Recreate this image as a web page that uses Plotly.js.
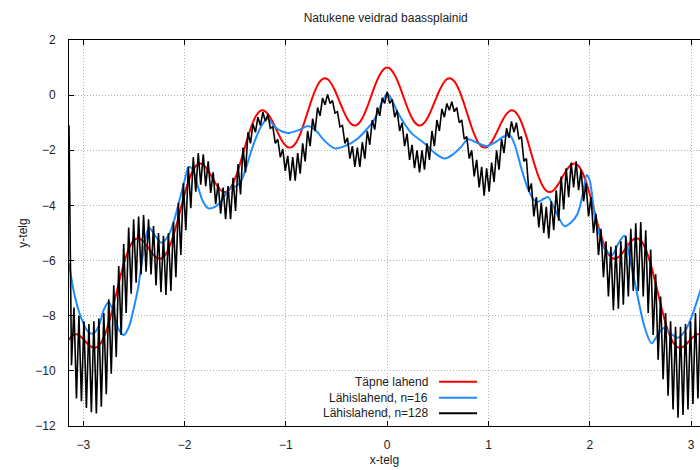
<!DOCTYPE html>
<html>
<head>
<meta charset="utf-8">
<script src="https://cdn.plot.ly/plotly-3.0.1.min.js"></script>
<style>html,body{margin:0;padding:0;background:#fff;overflow:hidden}</style>
</head>
<body>
<div id="chart" style="width:700px;height:470px"></div>
<script>
// Series names / legend labels
const seriesNames = ['Täpne lahend', 'Lähislahend, n=16', 'Lähislahend, n=128'];
const xTicks = [-3, -2, -1, 0, 1, 2, 3];

// Red: exact solution, sampled every pi/80 from -pi to 0 (mirrored for 0..pi)
const redStart = -3.14159;
const redStep = 0.0392699;
const redLeft = [-8.870,-8.701,-8.675,-8.761,-8.907,-9.057,-9.152,-9.142,-8.994,-8.698,-8.264,-7.725,-7.131,-6.540,-6.010,-5.592,-5.317,-5.197,-5.221,-5.356,-5.552,-5.751,-5.895,-5.934,-5.836,-5.589,-5.204,-4.715,-4.170,-3.628,-3.148,-2.779,-2.553,-2.483,-2.556,-2.740,-2.986,-3.234,-3.427,-3.516,-3.467,-3.269,-2.934,-2.494,-1.999,-1.506,-1.076,-0.756,-0.579,-0.558,-0.681,-0.914,-1.209,-1.507,-1.750,-1.888,-1.888,-1.740,-1.454,-1.063,-0.617,-0.174,0.207,0.478,0.605,0.577,0.405,0.122,-0.222,-0.569,-0.861,-1.049,-1.099,-0.999,-0.763,-0.421,-0.025,0.369,0.701,0.922,1.000];
const redY = redLeft.concat(redLeft.slice(0, redLeft.length - 1).reverse());

// Blue: n=16 approximation, read points
const blueX = [-3.1416,-3.09,-3.02,-2.96,-2.905,-2.85,-2.8,-2.75,-2.7,-2.65,-2.6,-2.55,-2.5,-2.46,-2.42,-2.38,-2.35,-2.3,-2.23,-2.16,-2.1,-2.05,-2.0,-1.96,-1.92,-1.87,-1.82,-1.77,-1.7,-1.64,-1.58,-1.54,-1.49,-1.44,-1.39,-1.34,-1.29,-1.24,-1.18,-1.11,-1.04,-0.97,-0.88,-0.78,-0.7,-0.62,-0.52,-0.42,-0.29,-0.13,-0.05,0,0.05,0.1,0.24,0.37,0.47,0.566,0.65,0.73,0.8,0.9,0.98,1.07,1.15,1.21,1.26,1.32,1.39,1.45,1.49,1.55,1.59,1.65,1.75,1.82,1.88,1.93,1.97,2.0,2.05,2.1,2.15,2.22,2.28,2.34,2.39,2.44,2.54,2.61,2.67,2.73,2.8,2.87,2.95,3.02,3.1,3.1416];
const blueY = [-6.1,-7.2,-8.1,-8.55,-8.65,-8.4,-7.8,-7.5,-7.9,-8.5,-8.7,-8.4,-7.7,-7.0,-6.0,-5.1,-4.8,-5.05,-5.35,-5.1,-4.5,-3.8,-3.1,-2.6,-2.7,-3.3,-3.85,-4.1,-4.05,-3.85,-3.5,-3.35,-3.3,-3.1,-2.6,-2.0,-1.5,-1.1,-0.85,-1.15,-1.32,-1.37,-1.28,-1.12,-1.3,-1.65,-1.93,-1.85,-1.57,-0.9,-0.25,0.06,-0.2,-0.6,-1.38,-1.75,-2.1,-2.3,-2.15,-1.87,-1.6,-1.75,-1.85,-1.7,-1.5,-1.45,-1.8,-2.6,-3.4,-3.8,-3.87,-3.75,-3.7,-4.1,-4.75,-4.6,-4.3,-3.6,-2.9,-3.1,-4.4,-5.1,-5.6,-5.8,-5.4,-5.1,-5.8,-6.7,-8.4,-9.0,-8.7,-8.45,-8.65,-8.8,-8.5,-7.9,-7.0,-6.6];

// Black: n=128 approximation, sampled every pi/128; read tops (even samples) and bottoms (odd samples)
const blackStart = -3.14159;
const blackStep = 0.0245437;
const blackTop = [-1.1,-7.7,-8.0,-8.2,-8.3,-8.2,-8.1,-7.9,-7.4,-6.9,-6.2,-5.4,-4.8,-4.5,-4.4,-4.35,-4.5,-4.75,-5.0,-5.1,-5.0,-4.6,-3.9,-3.2,-2.6,-2.25,-2.1,-2.15,-2.4,-2.8,-3.2,-3.35,-3.3,-3.0,-2.5,-1.9,-1.35,-1.05,-0.8,-0.62,-0.7,-1.15,-1.6,-1.95,-2.2,-2.25,-2.1,-1.75,-1.3,-0.85,-0.45,-0.1,0.03,-0.2,-0.6,-1.1,-1.55,-1.85,-1.9,-1.7,-1.3,-0.9,-0.45,-0.1,0.12,-0.15,-0.55,-1.0,-1.4,-1.8,-2.0,-2.0,-1.75,-1.3,-0.9,-0.5,-0.3,-0.24,-0.45,-0.9,-1.5,-2.0,-2.35,-2.6,-2.65,-2.45,-2.0,-1.6,-1.2,-0.95,-1.0,-1.5,-2.3,-3.2,-3.7,-3.9,-4.05,-3.85,-3.45,-2.95,-2.65,-2.45,-2.4,-2.7,-3.2,-3.7,-4.3,-4.85,-5.3,-5.5,-5.45,-5.3,-5.1,-4.85,-4.65,-4.6,-4.9,-5.6,-6.5,-7.3,-7.9,-8.2,-8.4,-8.4,-8.3,-8.2,-7.9,-7.7,-7.5];
const blackBottom = [-9.8,-11.0,-11.1,-11.35,-11.5,-11.55,-11.3,-10.85,-10.1,-9.5,-8.7,-7.9,-7.2,-6.8,-6.5,-6.4,-6.5,-6.9,-7.15,-7.25,-7.1,-6.6,-5.8,-4.9,-4.1,-3.5,-3.25,-3.3,-3.55,-3.95,-4.3,-4.5,-4.5,-4.2,-3.6,-2.8,-1.75,-1.35,-1.1,-0.95,-1.2,-1.75,-2.25,-2.75,-3.1,-3.1,-2.85,-2.4,-1.85,-1.3,-0.75,-0.35,-0.3,-0.65,-1.15,-1.75,-2.3,-2.6,-2.6,-2.3,-1.8,-1.25,-0.75,-0.3,-0.3,-0.8,-1.3,-1.85,-2.35,-2.65,-2.8,-2.7,-2.35,-1.85,-1.3,-0.8,-0.55,-0.6,-1.0,-1.6,-2.3,-2.95,-3.35,-3.65,-3.5,-3.15,-2.7,-2.1,-1.55,-1.35,-1.6,-2.4,-3.5,-4.4,-4.8,-5.0,-5.2,-4.9,-4.55,-4.15,-3.7,-3.35,-3.45,-3.85,-4.4,-5.0,-5.8,-6.6,-7.3,-7.8,-7.75,-7.6,-7.3,-7.1,-7.1,-7.3,-7.9,-8.7,-9.6,-10.3,-10.9,-11.4,-11.7,-11.6,-11.4,-11.2,-11.0,-10.8];

const blackY = [];
for (let i = 0; i < blackTop.length; i++) {
  blackY.push(blackTop[i]);
  if (i < blackBottom.length) blackY.push(blackBottom[i]);
}

const colors = ['#ff0000', '#1e8cff', '#000000'];

const traces = [
  {type:'scatter', mode:'lines', name:seriesNames[0], x0:redStart, dx:redStep, y:redY,
   line:{color:colors[0], width:2, shape:'spline', smoothing:1}, hoverinfo:'skip'},
  {type:'scatter', mode:'lines', name:seriesNames[1], x:blueX, y:blueY,
   line:{color:colors[1], width:2, shape:'spline', smoothing:0.8}, hoverinfo:'skip'},
  {type:'scatter', mode:'lines', name:seriesNames[2], x0:blackStart, dx:blackStep, y:blackY,
   line:{color:colors[2], width:1.6}, hoverinfo:'skip'}
];

// manual gnuplot-style legend (text, then sample line on the right)
const legRowsY = [0.1148, 0.0733, 0.0329];
const annotations = seriesNames.map((t, i) => ({
  text:t, xref:'paper', yref:'paper', x:0.5721, y:legRowsY[i], xanchor:'right', yanchor:'middle',
  showarrow:false, font:{size:12, color:'#222'}
}));
const shapes = seriesNames.map((t, i) => ({
  type:'line', xref:'paper', yref:'paper', x0:0.5864, x1:0.6466, y0:legRowsY[i], y1:legRowsY[i],
  line:{color:colors[i], width:2}
}));

const axisCommon = {
  ticks:'inside', ticklen:5, tickwidth:1, tickcolor:'#000',
  showline:true, linecolor:'#000', linewidth:1,
  showgrid:true, gridcolor:'#b0b0b0', gridwidth:1, griddash:'1px,2px',
  zeroline:false, automargin:false, fixedrange:true,
  tickfont:{size:12, color:'#222'}
};

const layout = {
  width:700, height:470,
  margin:{l:69, r:0, t:40, b:44, pad:0},
  paper_bgcolor:'#ffffff', plot_bgcolor:'#ffffff',
  font:{family:'"Liberation Sans", Arial, sans-serif', size:12, color:'#222'},
  showlegend:false,
  title:{text:'Natukene veidrad baassplainid', xref:'container', x:0.551, xanchor:'center',
         yref:'container', y:1 - 18/470, yanchor:'middle', font:{size:12, color:'#222'}},
  xaxis:Object.assign({}, axisCommon, {
    range:[-3.1416, 3.0885], tickvals:xTicks, mirror:'ticks', ticklabelstandoff:8,
    title:{text:'x-telg', standoff:4, font:{size:12, color:'#222'}}
  }),
  yaxis:Object.assign({}, axisCommon, {
    range:[-12, 2], tick0:0, dtick:2, mirror:false, ticklabelstandoff:10,
    title:{text:'y-telg', standoff:5, font:{size:12, color:'#222'}}
  }),
  annotations:annotations,
  shapes:shapes
};

Plotly.newPlot('chart', traces, layout, {staticPlot:true, displayModeBar:false});
</script>
</body>
</html>
